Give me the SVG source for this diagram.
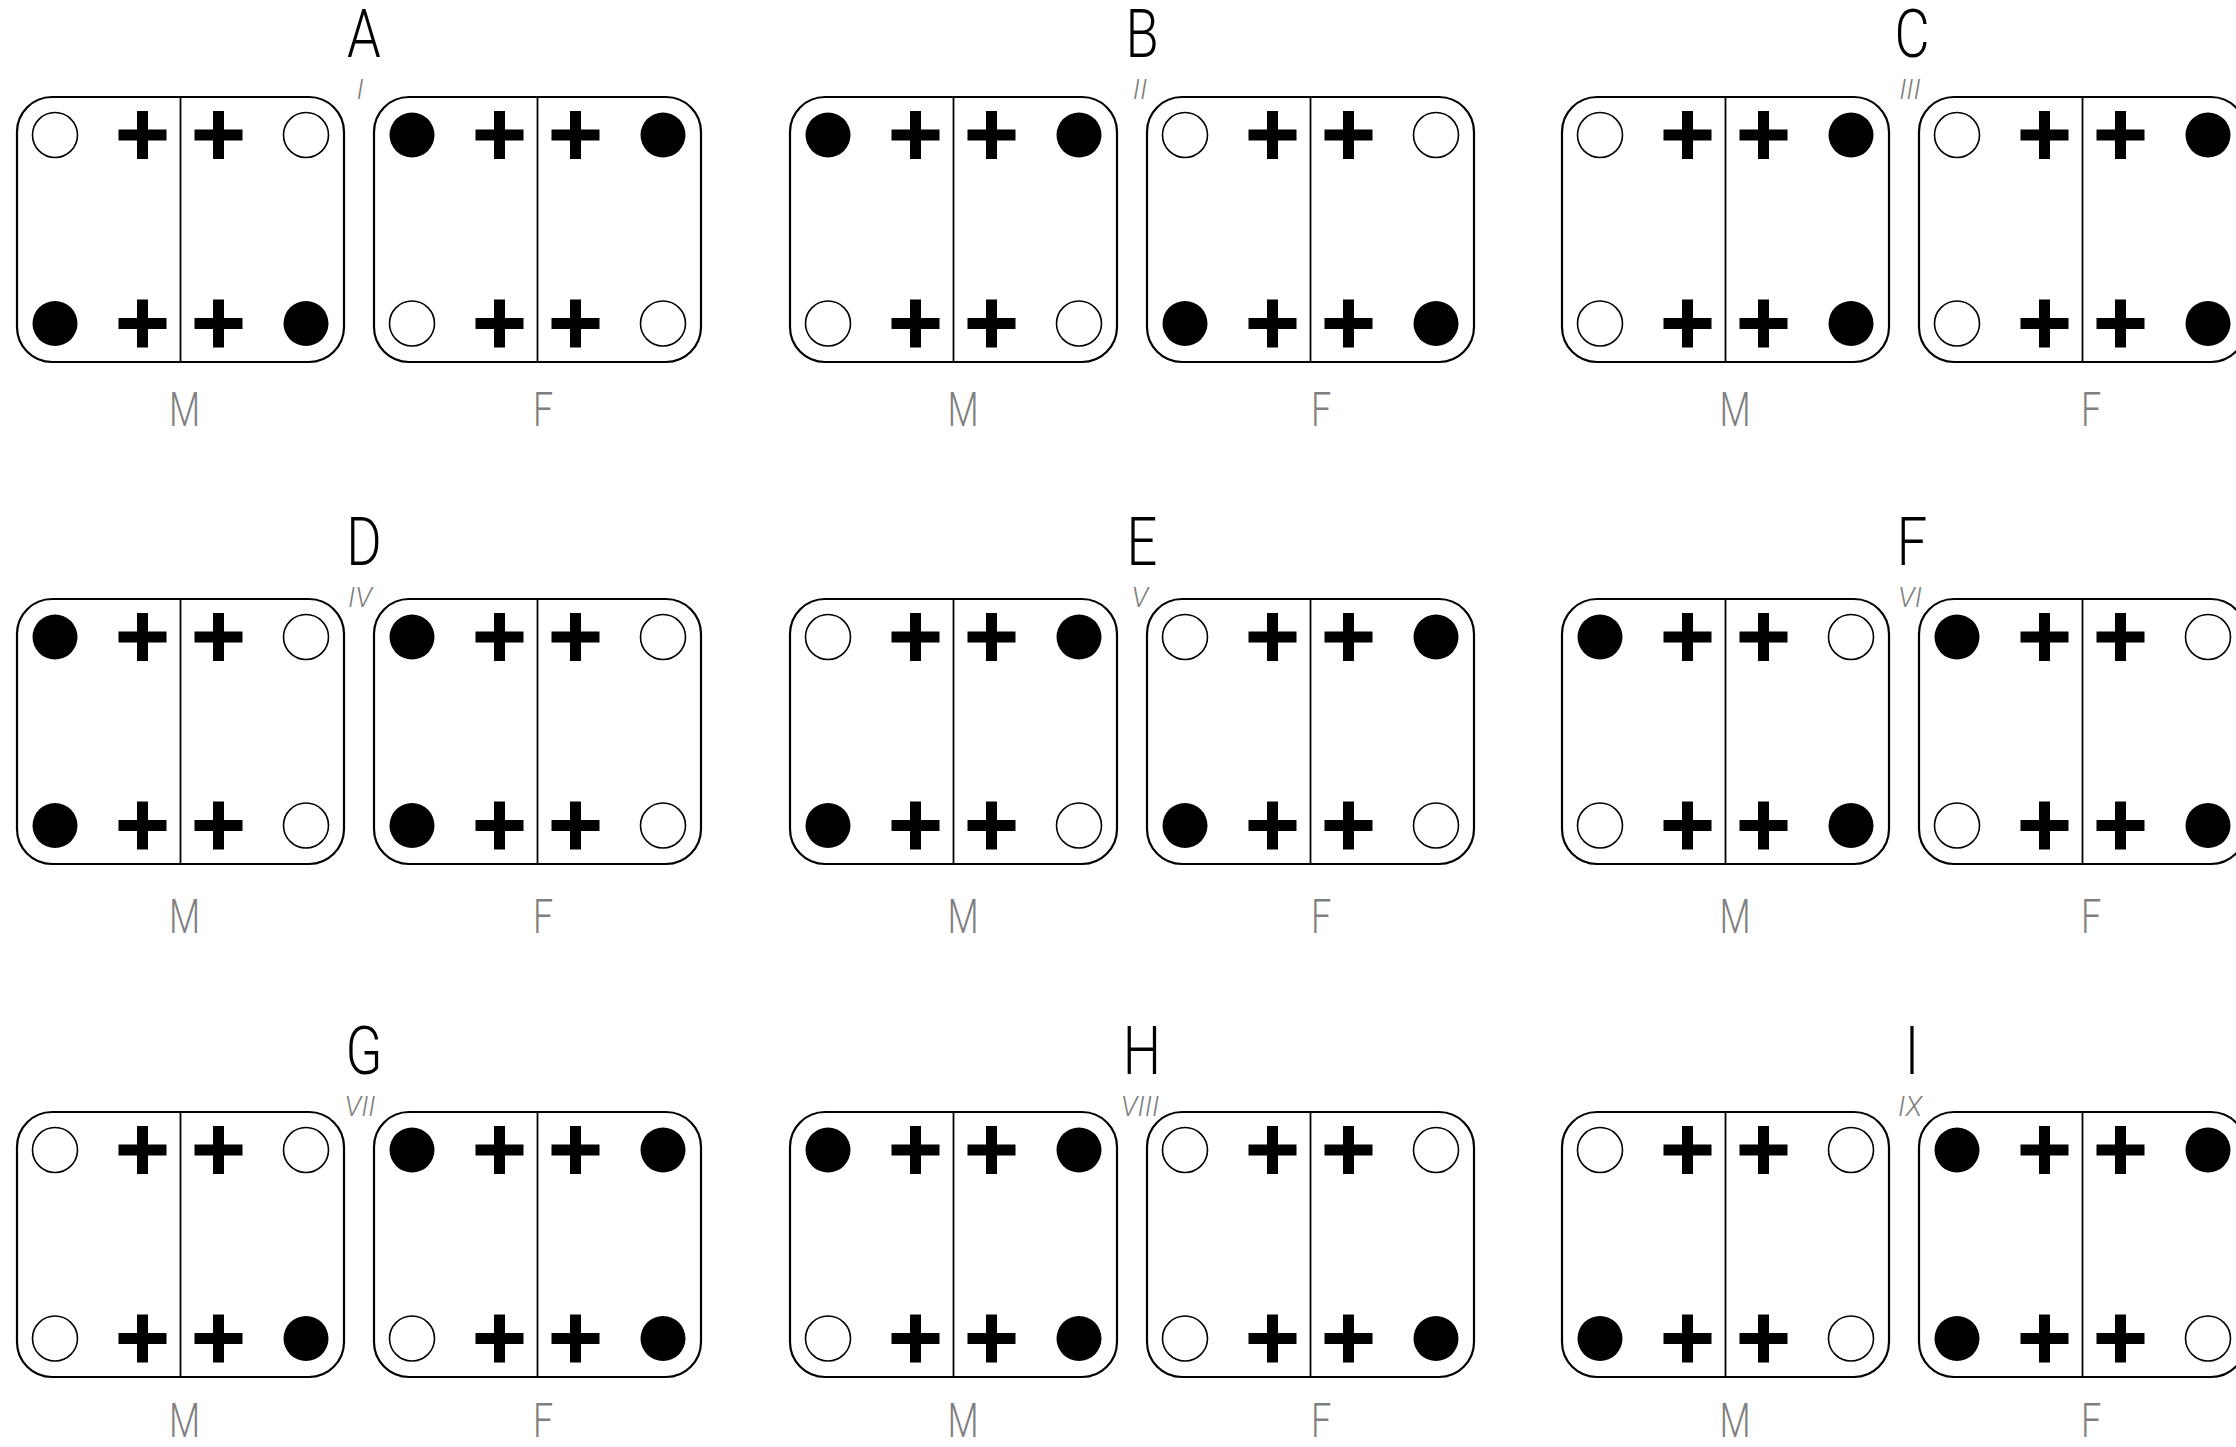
<svg xmlns="http://www.w3.org/2000/svg" width="2236" height="1447" viewBox="0 0 2236 1447">
<style>
.frame{fill:#fff;stroke:#000;stroke-width:2.2}
.dv{stroke:#000;stroke-width:1.8}
.o{fill:#fff;stroke:#000;stroke-width:1.6}
.f{fill:#000}
.title{font-family:Roboto,"Liberation Sans",sans-serif;font-weight:300;font-size:66px;fill:#000;text-anchor:middle}
.num{font-family:Roboto,"Liberation Sans",sans-serif;font-weight:300;font-style:italic;font-size:28px;fill:#808080;text-anchor:middle}
.lbl{font-family:Roboto,"Liberation Sans",sans-serif;font-weight:300;font-size:48px;fill:#808080;text-anchor:middle}
</style>
<defs>
<path id="plus" d="M-5.5,-24h11v18.5h18.5v11h-18.5v18.5h-11v-18.5h-18.5v-11h18.5z"/>
<g id="frame">
<rect class="frame" x="0" y="0" width="327" height="265" rx="35"/>
<line class="dv" x1="163.5" y1="0" x2="163.5" y2="265"/>
<use href="#plus" x="125.5" y="38"/>
<use href="#plus" x="201.5" y="38"/>
<use href="#plus" x="125.5" y="226.5"/>
<use href="#plus" x="201.5" y="226.5"/>
</g>
</defs>
<rect width="2236" height="1447" fill="#fff"/>

<g id="connectors"/>

<!-- Row 1 -->
<g id="group-A">
<text class="title" transform="translate(364,57) scale(0.82,1)">A</text>
<text class="num" x="360" y="99">I</text>
<g id="A-M" transform="translate(17,97)"><use href="#frame"/>
<circle class="o" cx="38" cy="38" r="22.5"/><circle class="o" cx="289" cy="38" r="22.5"/><circle class="f" cx="38" cy="226.5" r="22.5"/><circle class="f" cx="289" cy="226.5" r="22.5"/></g>
<g id="A-F" transform="translate(374,97)"><use href="#frame"/>
<circle class="f" cx="38" cy="38" r="22.5"/><circle class="f" cx="289" cy="38" r="22.5"/><circle class="o" cx="38" cy="226.5" r="22.5"/><circle class="o" cx="289" cy="226.5" r="22.5"/></g>
<text class="lbl" transform="translate(184.5,426) scale(0.75,1)">M</text>
<text class="lbl" transform="translate(543,426) scale(0.75,1)">F</text>
</g>

<g id="group-B">
<text class="title" transform="translate(1142,57) scale(0.82,1)">B</text>
<text class="num" x="1140" y="99">II</text>
<g id="B-M" transform="translate(790,97)"><use href="#frame"/>
<circle class="f" cx="38" cy="38" r="22.5"/><circle class="f" cx="289" cy="38" r="22.5"/><circle class="o" cx="38" cy="226.5" r="22.5"/><circle class="o" cx="289" cy="226.5" r="22.5"/></g>
<g id="B-F" transform="translate(1147,97)"><use href="#frame"/>
<circle class="o" cx="38" cy="38" r="22.5"/><circle class="o" cx="289" cy="38" r="22.5"/><circle class="f" cx="38" cy="226.5" r="22.5"/><circle class="f" cx="289" cy="226.5" r="22.5"/></g>
<text class="lbl" transform="translate(963,426) scale(0.75,1)">M</text>
<text class="lbl" transform="translate(1321,426) scale(0.75,1)">F</text>
</g>

<g id="group-C">
<text class="title" transform="translate(1912,57) scale(0.82,1)">C</text>
<text class="num" x="1910" y="99">III</text>
<g id="C-M" transform="translate(1562,97)"><use href="#frame"/>
<circle class="o" cx="38" cy="38" r="22.5"/><circle class="f" cx="289" cy="38" r="22.5"/><circle class="o" cx="38" cy="226.5" r="22.5"/><circle class="f" cx="289" cy="226.5" r="22.5"/></g>
<g id="C-F" transform="translate(1919,97)"><use href="#frame"/>
<circle class="o" cx="38" cy="38" r="22.5"/><circle class="f" cx="289" cy="38" r="22.5"/><circle class="o" cx="38" cy="226.5" r="22.5"/><circle class="f" cx="289" cy="226.5" r="22.5"/></g>
<text class="lbl" transform="translate(1735,426) scale(0.75,1)">M</text>
<text class="lbl" transform="translate(2091,426) scale(0.75,1)">F</text>
</g>

<!-- Row 2 -->
<g id="group-D">
<text class="title" transform="translate(364,565) scale(0.82,1)">D</text>
<text class="num" x="360" y="607">IV</text>
<g id="D-M" transform="translate(17,599)"><use href="#frame"/>
<circle class="f" cx="38" cy="38" r="22.5"/><circle class="o" cx="289" cy="38" r="22.5"/><circle class="f" cx="38" cy="226.5" r="22.5"/><circle class="o" cx="289" cy="226.5" r="22.5"/></g>
<g id="D-F" transform="translate(374,599)"><use href="#frame"/>
<circle class="f" cx="38" cy="38" r="22.5"/><circle class="o" cx="289" cy="38" r="22.5"/><circle class="f" cx="38" cy="226.5" r="22.5"/><circle class="o" cx="289" cy="226.5" r="22.5"/></g>
<text class="lbl" transform="translate(184.5,933) scale(0.75,1)">M</text>
<text class="lbl" transform="translate(543,933) scale(0.75,1)">F</text>
</g>

<g id="group-E">
<text class="title" transform="translate(1142,565) scale(0.82,1)">E</text>
<text class="num" x="1140" y="607">V</text>
<g id="E-M" transform="translate(790,599)"><use href="#frame"/>
<circle class="o" cx="38" cy="38" r="22.5"/><circle class="f" cx="289" cy="38" r="22.5"/><circle class="f" cx="38" cy="226.5" r="22.5"/><circle class="o" cx="289" cy="226.5" r="22.5"/></g>
<g id="E-F" transform="translate(1147,599)"><use href="#frame"/>
<circle class="o" cx="38" cy="38" r="22.5"/><circle class="f" cx="289" cy="38" r="22.5"/><circle class="f" cx="38" cy="226.5" r="22.5"/><circle class="o" cx="289" cy="226.5" r="22.5"/></g>
<text class="lbl" transform="translate(963,933) scale(0.75,1)">M</text>
<text class="lbl" transform="translate(1321,933) scale(0.75,1)">F</text>
</g>

<g id="group-F">
<text class="title" transform="translate(1912,565) scale(0.82,1)">F</text>
<text class="num" x="1910" y="607">VI</text>
<g id="F-M" transform="translate(1562,599)"><use href="#frame"/>
<circle class="f" cx="38" cy="38" r="22.5"/><circle class="o" cx="289" cy="38" r="22.5"/><circle class="o" cx="38" cy="226.5" r="22.5"/><circle class="f" cx="289" cy="226.5" r="22.5"/></g>
<g id="F-F" transform="translate(1919,599)"><use href="#frame"/>
<circle class="f" cx="38" cy="38" r="22.5"/><circle class="o" cx="289" cy="38" r="22.5"/><circle class="o" cx="38" cy="226.5" r="22.5"/><circle class="f" cx="289" cy="226.5" r="22.5"/></g>
<text class="lbl" transform="translate(1735,933) scale(0.75,1)">M</text>
<text class="lbl" transform="translate(2091,933) scale(0.75,1)">F</text>
</g>

<!-- Row 3 -->
<g id="group-G">
<text class="title" transform="translate(364,1074) scale(0.82,1)">G</text>
<text class="num" x="360" y="1116">VII</text>
<g id="G-M" transform="translate(17,1112)"><use href="#frame"/>
<circle class="o" cx="38" cy="38" r="22.5"/><circle class="o" cx="289" cy="38" r="22.5"/><circle class="o" cx="38" cy="226.5" r="22.5"/><circle class="f" cx="289" cy="226.5" r="22.5"/></g>
<g id="G-F" transform="translate(374,1112)"><use href="#frame"/>
<circle class="f" cx="38" cy="38" r="22.5"/><circle class="f" cx="289" cy="38" r="22.5"/><circle class="o" cx="38" cy="226.5" r="22.5"/><circle class="f" cx="289" cy="226.5" r="22.5"/></g>
<text class="lbl" transform="translate(184.5,1437) scale(0.75,1)">M</text>
<text class="lbl" transform="translate(543,1437) scale(0.75,1)">F</text>
</g>

<g id="group-H">
<text class="title" transform="translate(1142,1074) scale(0.82,1)">H</text>
<text class="num" x="1140" y="1116">VIII</text>
<g id="H-M" transform="translate(790,1112)"><use href="#frame"/>
<circle class="f" cx="38" cy="38" r="22.5"/><circle class="f" cx="289" cy="38" r="22.5"/><circle class="o" cx="38" cy="226.5" r="22.5"/><circle class="f" cx="289" cy="226.5" r="22.5"/></g>
<g id="H-F" transform="translate(1147,1112)"><use href="#frame"/>
<circle class="o" cx="38" cy="38" r="22.5"/><circle class="o" cx="289" cy="38" r="22.5"/><circle class="o" cx="38" cy="226.5" r="22.5"/><circle class="f" cx="289" cy="226.5" r="22.5"/></g>
<text class="lbl" transform="translate(963,1437) scale(0.75,1)">M</text>
<text class="lbl" transform="translate(1321,1437) scale(0.75,1)">F</text>
</g>

<g id="group-I">
<text class="title" transform="translate(1912,1074) scale(0.82,1)">I</text>
<text class="num" x="1910" y="1116">IX</text>
<g id="I-M" transform="translate(1562,1112)"><use href="#frame"/>
<circle class="o" cx="38" cy="38" r="22.5"/><circle class="o" cx="289" cy="38" r="22.5"/><circle class="f" cx="38" cy="226.5" r="22.5"/><circle class="o" cx="289" cy="226.5" r="22.5"/></g>
<g id="I-F" transform="translate(1919,1112)"><use href="#frame"/>
<circle class="f" cx="38" cy="38" r="22.5"/><circle class="f" cx="289" cy="38" r="22.5"/><circle class="f" cx="38" cy="226.5" r="22.5"/><circle class="o" cx="289" cy="226.5" r="22.5"/></g>
<text class="lbl" transform="translate(1735,1437) scale(0.75,1)">M</text>
<text class="lbl" transform="translate(2091,1437) scale(0.75,1)">F</text>
</g>
</svg>
